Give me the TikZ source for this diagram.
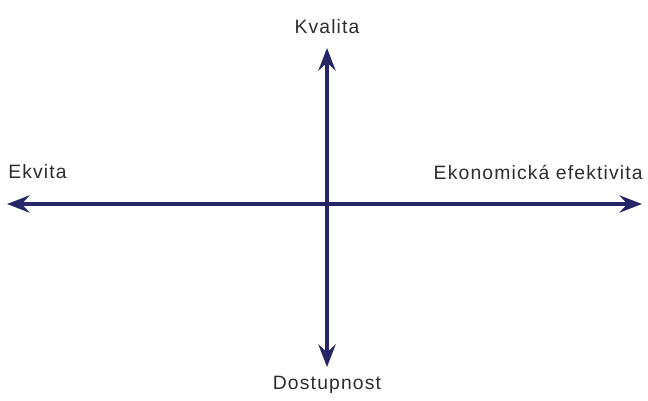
\documentclass[tikz,border=0pt]{standalone}
\usepackage{fontspec}
\setmainfont{Liberation Sans}[LetterSpace=6]
\usepackage{tikz}
\usetikzlibrary{arrows.meta, positioning}
\definecolor{axisNavy}{RGB}{38, 38, 102}
\definecolor{labelGrey}{RGB}{45, 45, 45}

\begin{document}
\begin{tikzpicture}[x=0.75pt, y=-0.75pt,
    axis/.style={draw=axisNavy, line width=2.4pt, {Stealth[length=17pt, width=13pt, inset=6pt]}-{Stealth[length=17pt, width=13pt, inset=6pt]}},
    lbl/.style={font=\fontsize{14.5}{16}\selectfont, text=labelGrey, inner sep=0pt}]
  \useasboundingbox (0,0) rectangle (648,400);
  % Axis ends
  \coordinate (west) at (7, 204);
  \coordinate (east) at (642, 204);
  \coordinate (north) at (327, 48);
  \coordinate (south) at (327, 367);
  % Axes
  \draw[axis] (west) -- (east);
  \draw[axis] (south) -- (north);
  % Labels
  \node[lbl] (kval) at (327, 27) {Kvalita};
  \node[lbl, anchor=west] (ekv) at (8, 172) {Ekvita};
  \node[lbl, anchor=east] (ekon) at (643, 172) {Ekonomická efektivita};
  \node[lbl] (dost) at (327, 385) {Dostupnost};
\end{tikzpicture}
\end{document}
